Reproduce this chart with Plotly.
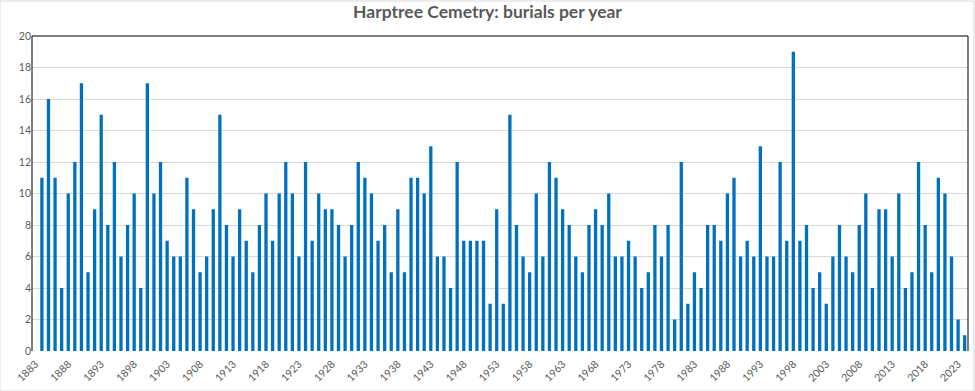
import plotly.graph_objects as go

years = list(range(1883, 2025))
burials = [
    0,
    11, 16, 11, 4, 10, 12, 17, 5, 9, 15, 8, 12, 6, 8, 10, 4,        # 1884-1899
    17, 10, 12, 7, 6, 6, 11, 9, 5, 6, 9, 15, 8, 6, 9, 7,             # 1900-1915
    5, 8, 10, 7, 10, 12, 10, 6, 12, 7, 10, 9, 9, 8, 6, 8,            # 1916-1931
    12, 11, 10, 7, 8, 5, 9, 5, 11, 11, 10, 13, 6, 6, 4, 12,          # 1932-1947
    7, 7, 7, 7, 3, 9, 3, 15, 8, 6, 5, 10, 6, 12, 11, 9,              # 1948-1963
    8, 6, 5, 8, 9, 8, 10, 6, 6, 7, 6, 4, 5, 8, 6, 8,                 # 1964-1979
    2, 12, 3, 5, 4, 8, 8, 7, 10, 11, 6, 7, 6, 13, 6, 6,              # 1980-1995
    12, 7, 19, 7, 8, 4, 5, 3, 6, 8, 6, 5, 8, 10, 4, 9,               # 1996-2011
    9, 6, 10, 4, 5, 12, 8, 5, 11, 10, 6, 2, 1,                       # 2012-2024
]
tick_years = [1883, 1888, 1893, 1898, 1903, 1908, 1913, 1918, 1923, 1928, 1933,
              1938, 1943, 1948, 1953, 1958, 1963, 1968, 1973, 1978, 1983, 1988,
              1993, 1998, 2003, 2008, 2013, 2018, 2023]
y_ticks = [0, 2, 4, 6, 8, 10, 12, 14, 16, 18, 20]

grey = "#595959"
fig = go.Figure(go.Bar(x=years, y=burials, marker_color="#0070C0",
                       marker_line_width=0))
fig.update_layout(
    width=975, height=391,
    margin=dict(l=32, r=7, t=36, b=40),
    paper_bgcolor="white", plot_bgcolor="white",
    bargap=0.5,
    showlegend=False,
    font=dict(family="Lato, Open Sans, sans-serif", color=grey),
    title=dict(text="<b>Harptree Cemetry: burials per year</b>",
               x=0.5, xanchor="center", y=0.985, yanchor="top",
               font=dict(size=17.5, color=grey, family="Lato, Open Sans, sans-serif")),
    shapes=[
        dict(type="rect", xref="paper", yref="paper",
             x0=-32/936, x1=1 + 6/936, y0=-40/315, y1=1 + 35/315,
             line=dict(color="#D9D9D9", width=1), layer="below"),
        dict(type="path", xref="paper", yref="paper",
             path="M 0,0 L 0,1 L 1,1 L 1,0",
             line=dict(color="black", width=1), layer="above"),
    ],
)
fig.update_xaxes(range=[1882.5, 2024.5], tickmode="array", tickvals=tick_years,
                 ticktext=[str(t) for t in tick_years], tickangle=-45,
                 tickfont=dict(size=10.5, color=grey), showgrid=False,
                 showline=False, ticks="", zeroline=False, ticklabelstandoff=4)
fig.update_yaxes(range=[0, 20], tickmode="array", tickvals=y_ticks,
                 tickfont=dict(size=10.5, color=grey), showgrid=True,
                 gridcolor="#D9D9D9", gridwidth=1,
                 showline=False, ticks="", zeroline=False)
fig.write_html("out.html", config={"displayModeBar": False},
               post_script="document.body.style.margin='0';document.body.style.overflow='hidden';")
